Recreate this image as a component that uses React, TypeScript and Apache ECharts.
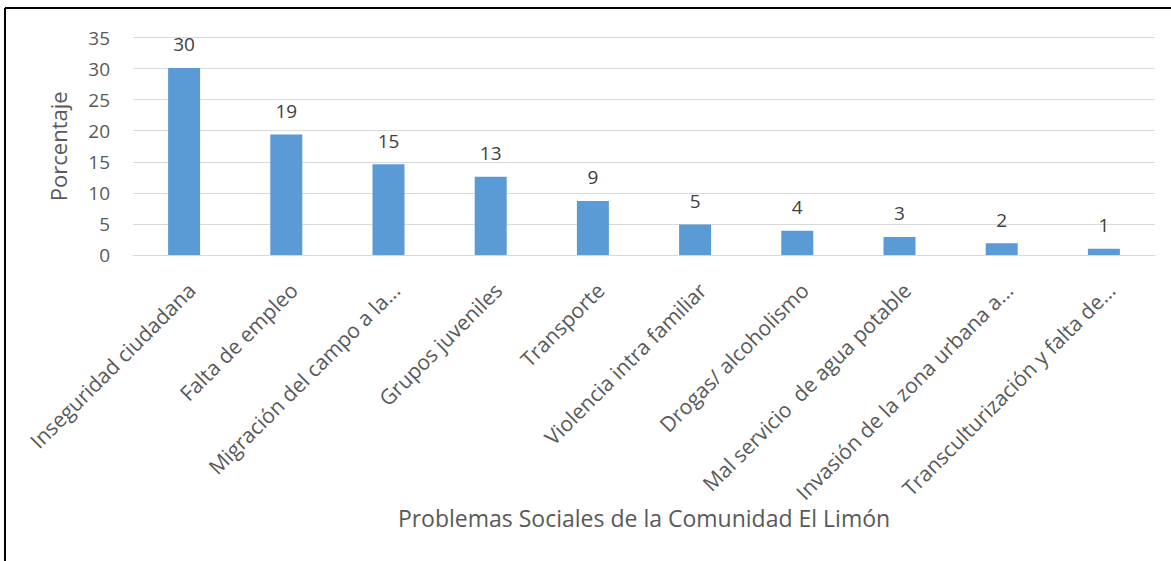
import React, { useEffect, useRef } from "react";
import * as echarts from "echarts";

const categories = [
  "Inseguridad ciudadana",
  "Falta de empleo",
  "Migración del campo a la...",
  "Grupos juveniles",
  "Transporte",
  "Violencia intra familiar",
  "Drogas/ alcoholismo",
  "Mal servicio  de agua potable",
  "Invasión de la zona urbana a...",
  "Transculturización y falta de...",
];
const values = [30.1, 19.4, 14.6, 12.6, 8.7, 4.9, 3.9, 2.9, 1.9, 1.0];
const yTicks = { min: 0, max: 35, interval: 5 };
const xTitle = "Problemas Sociales de la Comunidad El Limón";
const yTitle = "Porcentaje";

const FONT = "Open Sans";

export default function App() {
  const ref = useRef<HTMLDivElement>(null);
  useEffect(() => {
    if (!ref.current) return;
    const chart = echarts.init(ref.current, undefined, { renderer: "svg" });
    chart.setOption({
      animation: false,
      backgroundColor: "#ffffff",
      textStyle: { fontFamily: FONT },
      grid: { left: 133, right: 16, top: 37.5, bottom: 306, containLabel: false },
      xAxis: {
        type: "category",
        data: categories,
        axisLine: { lineStyle: { color: "#d9d9d9", width: 1 } },
        axisTick: { show: false },
        axisLabel: {
          interval: 0,
          rotate: 45,
          color: "#595959",
          fontSize: 21,
          fontFamily: FONT,
          margin: 24,
          verticalAlign: "top",
        },
        name: xTitle,
        nameLocation: "middle",
        nameGap: 248,
        nameTextStyle: { color: "#595959", fontSize: 23, fontFamily: FONT },
      },
      yAxis: {
        type: "value",
        min: yTicks.min,
        max: yTicks.max,
        interval: yTicks.interval,
        axisLine: { show: false },
        axisTick: { show: false },
        splitLine: { lineStyle: { color: "#d9d9d9", width: 1 } },
        axisLabel: { color: "#595959", fontSize: 19, fontFamily: FONT, margin: 23 },
        name: yTitle,
        nameLocation: "middle",
        nameGap: 64,
        nameTextStyle: { color: "#595959", fontSize: 22, fontFamily: FONT },
      },
      series: [
        {
          type: "bar",
          data: values,
          barWidth: 32,
          itemStyle: { color: "#5b9bd5" },
          label: {
            show: true,
            position: "top",
            distance: 14,
            color: "#404040",
            fontSize: 19,
            fontFamily: FONT,
            formatter: (p: any) => String(Math.round(p.value)),
          },
        },
      ],
      graphic: [
        {
          type: "line",
          shape: { x1: 5, y1: 8, x2: 1171, y2: 8 },
          style: { stroke: "#000000", lineWidth: 2 },
          silent: true,
        },
        {
          type: "line",
          shape: { x1: 5, y1: 8, x2: 5, y2: 561 },
          style: { stroke: "#000000", lineWidth: 2 },
          silent: true,
        },
      ],
    });
    return () => chart.dispose();
  }, []);
  return (
    <div
      ref={ref}
      style={{ position: "absolute", left: 0, top: 0, width: 1171, height: 561, background: "#fff" }}
    />
  );
}
